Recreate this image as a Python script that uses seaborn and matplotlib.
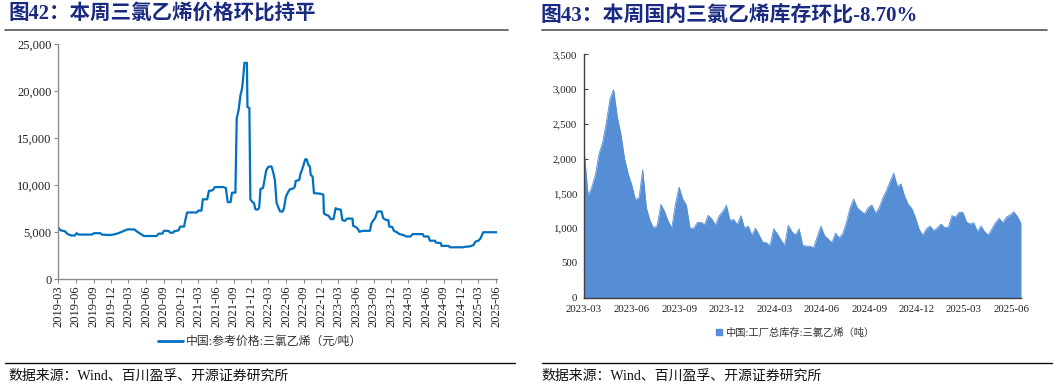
import matplotlib
matplotlib.use('Agg')
import matplotlib.pyplot as plt
import matplotlib.dates as mdates
from matplotlib.ticker import FuncFormatter, MultipleLocator
from matplotlib.lines import Line2D
import seaborn as sns
import pandas as pd

# ---------------- data ----------------
price_dates = [
    '2019-03-01', '2019-03-13', '2019-04-05', '2019-04-19', '2019-05-09', '2019-05-26',
    '2019-06-05', '2019-06-15', '2019-08-22', '2019-09-04', '2019-10-05', '2019-10-15',
    '2019-11-26', '2019-12-13', '2020-01-09', '2020-01-26', '2020-02-13', '2020-02-25',
    '2020-04-01', '2020-04-13', '2020-05-01', '2020-05-21', '2020-07-26', '2020-08-06',
    '2020-08-25', '2020-09-02', '2020-09-26', '2020-10-05', '2020-10-19', '2020-10-25',
    '2020-11-17', '2020-11-26', '2020-12-16', '2020-12-23', '2021-01-01', '2021-02-21',
    '2021-03-01', '2021-03-17', '2021-03-24', '2021-04-16', '2021-04-25', '2021-05-14',
    '2021-05-26', '2021-07-09', '2021-07-22', '2021-08-01', '2021-08-16', '2021-08-23',
    '2021-09-10', '2021-09-17', '2021-09-27', '2021-10-06', '2021-10-15', '2021-10-21',
    '2021-10-27', '2021-11-09', '2021-11-12', '2021-11-22', '2021-11-27', '2021-12-08',
    '2021-12-16', '2021-12-23', '2022-01-04', '2022-01-12', '2022-01-19', '2022-02-01',
    '2022-02-04', '2022-02-18', '2022-03-01', '2022-03-17', '2022-03-26', '2022-04-04',
    '2022-04-13', '2022-04-21', '2022-05-01', '2022-05-14', '2022-05-21', '2022-06-01',
    '2022-06-13', '2022-06-21', '2022-07-09', '2022-07-17', '2022-07-22', '2022-08-09',
    '2022-08-16', '2022-08-23', '2022-09-01', '2022-09-09', '2022-09-17', '2022-09-26',
    '2022-10-04', '2022-10-08', '2022-10-18', '2022-10-25', '2022-11-26', '2022-12-13',
    '2022-12-16', '2022-12-27', '2023-01-09', '2023-01-21', '2023-02-04', '2023-02-15',
    '2023-02-25', '2023-03-14', '2023-03-22', '2023-04-04', '2023-04-16', '2023-05-14',
    '2023-05-17', '2023-06-04', '2023-06-13', '2023-06-18', '2023-07-09', '2023-08-13',
    '2023-08-21', '2023-09-01', '2023-09-09', '2023-09-21', '2023-10-13', '2023-10-21',
    '2023-11-05', '2023-11-17', '2023-11-22', '2023-12-08', '2023-12-16', '2024-01-01',
    '2024-01-14', '2024-02-04', '2024-02-18', '2024-03-12', '2024-03-22', '2024-05-14',
    '2024-05-21', '2024-06-13', '2024-06-21', '2024-07-17', '2024-07-22', '2024-08-16',
    '2024-08-21', '2024-09-26', '2024-10-04', '2024-12-13', '2024-12-21', '2025-01-17',
    '2025-02-04', '2025-02-13', '2025-03-01', '2025-03-12', '2025-03-26', '2025-06-05',
]
price_values = [
    5500, 5200, 5100, 4800, 4650, 4650,
    4900, 4750, 4750, 4900, 4900, 4750,
    4700, 4750, 4900, 5050, 5200, 5300,
    5300, 5100, 4850, 4600, 4600, 4850,
    4850, 5150, 5150, 4950, 4950, 5100,
    5200, 5600, 5600, 6300, 7100, 7100,
    7300, 7300, 8500, 8500, 9400, 9450,
    9800, 9800, 9700, 8200, 8200, 9200,
    9200, 17100, 18000, 19500, 20300, 21500,
    23000, 23000, 18300, 18200, 8500, 8200,
    8100, 7450, 7400, 7600, 9600, 9700,
    10000, 11600, 11950, 12000, 11400, 10550,
    8100, 7700, 7200, 7200, 7500, 8800,
    9300, 9550, 9650, 9850, 10450, 10550,
    11250, 11600, 12150, 12750, 12750, 12150,
    11950, 11100, 10900, 9150, 9100, 9000,
    7000, 6850, 6750, 6400, 6400, 7550,
    7450, 7400, 6300, 6200, 6450, 6450,
    5700, 5500, 5300, 5050, 5150, 5150,
    5950, 6300, 6500, 7200, 7200, 6500,
    6300, 6300, 5600, 5550, 5150, 5000,
    4800, 4700, 4550, 4550, 4800, 4800,
    4550, 4550, 4100, 4100, 3900, 3850,
    3550, 3550, 3400, 3400, 3450, 3500,
    3650, 4000, 4100, 4350, 5000, 5000,
]

inv_start = '2023-03-02'   # weekly data
inv_values = [
    2050, 1460, 1590, 1770, 2070, 2240, 2520, 2860, 2990, 2600,
    2350, 2000, 1780, 1620, 1410, 1440, 1840, 1290, 1110, 1000,
    1040, 1340, 1240, 1100, 1000, 1350, 1590, 1420, 1330, 1000,
    1000, 1080, 1085, 1050, 1185, 1130, 1045, 1175, 1240, 1330,
    1110, 1125, 1050, 1180, 1000, 1030, 900, 1000, 900, 800,
    790, 750, 990, 920, 830, 750, 1040, 950, 900, 990,
    750, 743, 740, 720, 880, 1030, 890, 845, 790, 930,
    860, 920, 1080, 1290, 1420, 1290, 1245, 1205, 1295, 1333,
    1215, 1290, 1430, 1540, 1670, 1790, 1600, 1635, 1460, 1340,
    1280, 1150, 980, 900, 990, 1030, 965, 1005, 1060, 1010,
    1010, 1180, 1160, 1230, 1230, 1090, 1060, 1080, 950, 1030,
    950, 900, 990, 1080, 1140, 1080, 1160, 1190, 1235, 1170,
    1068,
]

title_left = '图42：本周三氯乙烯价格环比持平'
title_right = '图43：本周国内三氯乙烯库存环比-8.70%'
legend_left = '中国:参考价格:三氯乙烯（元/吨）'
legend_right = '中国:工厂总库存:三氯乙烯（吨）'
source_text = '数据来源：Wind、百川盈孚、开源证券研究所'

# ---------------- style ----------------
sns.set_style('ticks')
plt.rcParams['font.family'] = ['Liberation Serif', 'Noto Sans CJK SC', 'DejaVu Sans']
plt.rcParams['axes.unicode_minus'] = False

W, H = 1057, 389
fig = plt.figure(figsize=(W / 100, H / 100), dpi=100)

def fx(px):
    return px / W

def fy(py):
    return 1 - py / H

line_blue = '#0070c0'
area_blue = '#558ed5'
title_col = '#1a2a80'
comma = FuncFormatter(lambda v, p: f'{int(v):,}')

# ---------------- left chart ----------------
ax1 = fig.add_axes([fx(58.3), fy(279.3), fx(497) - fx(58.3), (279.3 - 44) / H])
df1 = pd.DataFrame({'date': pd.to_datetime(price_dates), 'price': price_values})
sns.lineplot(data=df1, x='date', y='price', ax=ax1, color=line_blue, lw=1.6)
ax1.set_xlim(pd.Timestamp('2019-03-01'), pd.Timestamp('2025-06-06'))
ax1.set_ylim(0, 25000)
ax1.yaxis.set_major_locator(MultipleLocator(5000))
ax1.yaxis.set_major_formatter(comma)
ax1.set_xticks(pd.date_range('2019-03-01', '2025-06-01', freq='3MS'))
ax1.xaxis.set_major_formatter(mdates.DateFormatter('%Y-%m'))
ax1.set_xlabel('')
ax1.set_ylabel('')
for s in ['top', 'right']:
    ax1.spines[s].set_visible(False)
for s in ['left', 'bottom']:
    ax1.spines[s].set_color('#8c8c8c')
    ax1.spines[s].set_linewidth(1.0)
ax1.tick_params(axis='both', direction='out', length=3, width=0.8, color='#8c8c8c',
                labelsize=9, labelcolor='#222222', pad=2)
ax1.tick_params(axis='x', labelrotation=90, pad=1.5)
if ax1.get_legend():
    ax1.get_legend().remove()

# ---------------- right chart ----------------
ax2 = fig.add_axes([fx(584), fy(297.7), fx(1021) - fx(584), (297.7 - 54.3) / H])
df2 = pd.DataFrame({'date': pd.date_range(inv_start, periods=len(inv_values), freq='7D'),
                    'inv': inv_values})
sns.lineplot(data=df2, x='date', y='inv', ax=ax2, color=area_blue, lw=0.6)
ax2.fill_between(df2['date'], 0, df2['inv'], color=area_blue, lw=0)
ax2.set_xlim(pd.Timestamp('2023-03-01'), pd.Timestamp('2025-06-19'))
ax2.set_ylim(0, 3500)
ax2.yaxis.set_major_locator(MultipleLocator(500))
ax2.yaxis.set_major_formatter(comma)
ax2.set_xticks(pd.date_range('2023-03-01', '2025-06-01', freq='3MS'))
ax2.xaxis.set_major_formatter(mdates.DateFormatter('%Y-%m'))
ax2.set_xlabel('')
ax2.set_ylabel('')
for s in ['top', 'right']:
    ax2.spines[s].set_visible(False)
for s in ['left', 'bottom']:
    ax2.spines[s].set_color('#404040')
    ax2.spines[s].set_linewidth(1.0)
ax2.tick_params(axis='both', direction='in', length=3, width=0.8, color='#404040',
                labelsize=7.8, labelcolor='#222222')
ax2.tick_params(axis='x', pad=5)
ax2.tick_params(axis='y', pad=5)
if ax2.get_legend():
    ax2.get_legend().remove()

# ---------------- legends ----------------
h1 = Line2D([], [], color=line_blue, lw=2)
fig.legend(handles=[h1], labels=[legend_left], loc='center', bbox_to_anchor=(fx(260), fy(342)),
           frameon=False, fontsize=8.6, handlelength=2.1, handletextpad=0.3,
           labelcolor='#333333')
h2 = Line2D([], [], marker='s', color=area_blue, linestyle='none', markersize=4.5)
fig.legend(handles=[h2], labels=[legend_right], loc='center', bbox_to_anchor=(fx(795), fy(333)),
           frameon=False, fontsize=7.4, handlelength=0.6, handletextpad=0.3,
           labelcolor='#333333')

# ---------------- titles, rules, sources ----------------
fig.text(fx(8), fy(15), title_left, fontsize=14.8, fontweight='bold', color=title_col,
         ha='left', va='center')
fig.text(fx(541), fy(15), title_right, fontsize=15, fontweight='bold', color=title_col,
         ha='left', va='center')
for x0, x1 in [(5, 508), (542, 1047)]:
    fig.add_artist(Line2D([fx(x0), fx(x1)], [fy(29.5), fy(29.5)], color='#555555', lw=1.2,
                          transform=fig.transFigure))
for x0, x1 in [(5, 515), (542, 1052)]:
    fig.add_artist(Line2D([fx(x0), fx(x1)], [fy(363), fy(363)], color='#111111', lw=1.0,
                          transform=fig.transFigure))
fig.text(fx(8), fy(376), source_text, fontsize=10, color='#111111', ha='left', va='center')
fig.text(fx(541), fy(376), source_text, fontsize=10, color='#111111', ha='left', va='center')

fig.savefig('out.png', dpi=100)
